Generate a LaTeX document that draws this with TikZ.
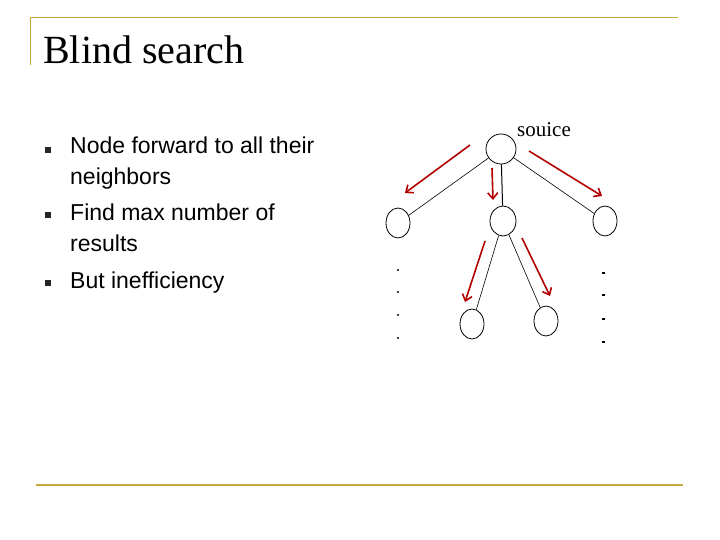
\documentclass[tikz,border=0pt]{standalone}
\usepackage{fontspec}
\setmainfont{Liberation Serif}
\newfontfamily\arial{Liberation Sans}
\begin{document}
\begin{tikzpicture}[x=1pt,y=-1pt,
  nd/.style={draw,ellipse,minimum width=24pt,minimum height=30pt,inner sep=0pt,line width=0.8pt},
  ra/.style={draw=red!70!black,line width=1.6pt,-{Straight Barb[length=6pt,width=10pt]}},
  bul/.style={fill=black!85,minimum size=6pt,inner sep=0pt},
  btxt/.style={anchor=north west,font=\arial\fontsize{23}{30.5}\selectfont,align=left,inner sep=0pt}]
\useasboundingbox (0,0) rectangle (720,540);
\usetikzlibrary{shapes.geometric,arrows.meta}
\draw[draw={rgb,255:red,200;green,170;blue,60},line width=1pt] (30,65) -- (30,18) -- (678,18);
\draw[draw={rgb,255:red,200;green,170;blue,60},line width=1.2pt] (36,485) -- (683,485);
\node[anchor=base west,font=\fontsize{40}{42}\selectfont,inner sep=0pt] (title) at (43,64) {Blind search};
\node[bul] (b1) at (48,150) {};
\node[bul] (b2) at (48,215) {};
\node[bul] (b3) at (48,283) {};
\node[btxt] (t1) at (70,137) {Node forward to all their\\neighbors};
\node[btxt] (t2) at (70,204) {Find max number of\\results};
\node[btxt] (t3) at (70,272) {But inefficiency};
\node[nd,minimum width=30pt] (r) at (501,149) {};
\node[nd] (l) at (398,223) {};
\node[nd,minimum width=26pt] (m) at (503,221) {};
\node[nd] (rt) at (605,221) {};
\node[nd] (bl) at (472,324) {};
\node[nd] (br) at (546,321) {};
\node[anchor=base west,font=\fontsize{21}{22}\selectfont,inner sep=0pt] (src) at (517,137) {souice};
\draw[line width=0.6pt] (r) -- (l);
\draw[line width=1pt] (r) -- (m);
\draw[line width=0.6pt] (r) -- (rt);
\draw[line width=0.6pt] (m) -- (bl);
\draw[line width=0.6pt] (m) -- (br);
\coordinate (a1s) at (470,145); \coordinate (a1e) at (405,193);
\coordinate (a2s) at (492,168); \coordinate (a2e) at (493,200);
\coordinate (a3s) at (529,151); \coordinate (a3e) at (602,196);
\coordinate (a4s) at (485,241); \coordinate (a4e) at (465,302);
\coordinate (a5s) at (522,238); \coordinate (a5e) at (550,296);
\draw[ra] (a1s) -- (a1e);
\draw[ra] (a2s) -- (a2e);
\draw[ra] (a3s) -- (a3e);
\draw[ra] (a4s) -- (a4e);
\draw[ra] (a5s) -- (a5e);
\foreach \y in {270,292,315,338} \fill (398,\y) circle (1.2pt);
\foreach \y in {272,294,318,341} \fill (602,\y) rectangle (605,\y+1.6);
\end{tikzpicture}
\end{document}
